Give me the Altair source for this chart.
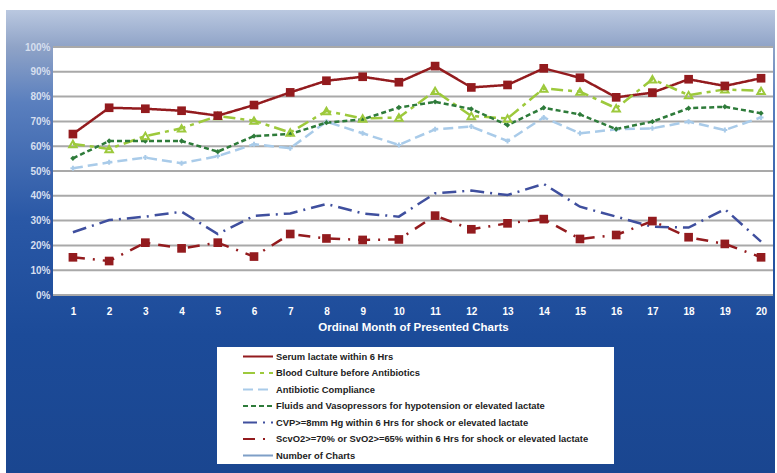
import altair as alt
import pandas as pd

months = list(range(1, 21))

serum_lactate = [64.9, 75.5, 75.1, 74.3, 72.3, 76.6, 81.7, 86.4, 88.0, 85.8,
                 92.3, 83.7, 84.7, 91.4, 87.6, 79.7, 81.6, 87.0, 84.3, 87.4]
blood_culture = [60.9, 58.9, 64.1, 67.2, 72.2, 70.3, 65.5, 74.2, 71.2, 71.6,
                 82.3, 72.2, 71.2, 83.3, 82.0, 75.3, 87.0, 80.6, 82.9, 82.3]
antibiotic = [51.1, 53.5, 55.4, 53.1, 56.0, 60.8, 59.2, 69.9, 65.2, 60.5,
              66.8, 67.9, 62.1, 71.6, 65.2, 66.8, 67.2, 69.9, 66.5, 71.6]
fluids = [55.1, 62.1, 62.1, 62.1, 57.8, 64.1, 64.9, 69.5, 70.8, 75.6,
          77.9, 75.0, 68.5, 75.5, 72.8, 66.9, 69.9, 75.3, 75.9, 73.3]
cvp = [25.3, 30.2, 31.6, 33.6, 24.6, 31.9, 32.9, 36.7, 32.9, 31.6,
       41.0, 42.1, 40.3, 44.8, 35.6, 31.6, 27.5, 27.2, 34.6, 21.5]
scvo2 = [15.2, 13.7, 21.1, 18.8, 21.1, 15.5, 24.6, 22.8, 22.2, 22.4,
         32.0, 26.5, 28.9, 30.6, 22.6, 24.2, 29.8, 23.3, 20.6, 15.2]

series_names = [
    "Serum lactate within 6 Hrs",
    "Blood Culture before Antibiotics",
    "Antibiotic Compliance",
    "Fluids and Vasopressors for hypotension or elevated lactate",
    "CVP>=8mm Hg within 6 Hrs for shock or elevated lactate",
    "ScvO2>=70% or SvO2>=65% within 6 Hrs for shock or elevated lactate",
    "Number of Charts",
]
series_values = [serum_lactate, blood_culture, antibiotic, fluids, cvp, scvo2]
series_colors = ["#931b1e", "#9dc93c", "#a9cbe9", "#2e7b3a", "#3f4f9e", "#931b1e", "#7f9fc7"]
series_dash = [[1, 0], [12, 5, 4, 5], [10, 5], [5, 3], [14, 6, 2, 6], [12, 8, 2, 8], [1, 0]]

y_ticks = list(range(0, 101, 10))

rows = []
for name, vals in zip(series_names, series_values):
    for m, v in zip(months, vals):
        rows.append({"month": m, "value": v, "series": name})
df = pd.DataFrame(rows)

FONT = "Liberation Sans"

x_scale = alt.Scale(domain=[0.45, 20.33], nice=False, zero=False)
y_scale = alt.Scale(domain=[0, 100], nice=False)

x_enc = alt.X("month:Q", scale=x_scale,
              axis=alt.Axis(values=months, format="d", title="Ordinal Month of Presented Charts",
                            labelColor="white", labelFontWeight="bold", labelFontSize=10, labelFont=FONT,
                            labelPadding=11, titleColor="white", titleFontWeight="bold",
                            titleFontSize=11.5, titleFont=FONT, titlePadding=5,
                            domain=False, ticks=False, grid=False, zindex=2))
y_enc = alt.Y("value:Q", scale=y_scale,
              axis=alt.Axis(values=y_ticks, labelExpr="datum.value + '%'", title=None,
                            labelColor="#d6dfef", labelFontWeight="bold", labelFontSize=10, labelFont=FONT,
                            labelPadding=3, domain=False, ticks=False, grid=False, zindex=2))

one = pd.DataFrame({"a": [0]})

bg = alt.Chart(one).mark_rect(
    color=alt.Gradient(
        gradient="linear", x1=0, x2=0, y1=0, y2=1,
        stops=[alt.GradientStop(color="#bac8e0", offset=0),
               alt.GradientStop(color="#8fa3c7", offset=0.08),
               alt.GradientStop(color="#5a7fbe", offset=0.2),
               alt.GradientStop(color="#2a58a6", offset=0.45),
               alt.GradientStop(color="#1c4b99", offset=0.7),
               alt.GradientStop(color="#1a4690", offset=1)])
).encode(x=alt.value(-47), x2=alt.value(722), y=alt.value(-37), y2=alt.value(426))

panel = alt.Chart(one).mark_rect(color="white").encode(
    x=alt.value(0), x2=alt.value(720), y=alt.value(0), y2=alt.value(248))

grid = alt.Chart(pd.DataFrame({"value": y_ticks})).mark_rule(color="#a9a9a9", strokeWidth=2).encode(
    y=y_enc)

legend = alt.Legend(title=" ", titleOrient="right", titlePadding=22, titleFontSize=9,
                    orient="none", legendX=164, legendY=300, fillColor="white",
                    padding=3.5, symbolType="M-3,0H3", symbolSize=100, symbolStrokeWidth=2,
                    symbolOffset=31.5, labelOffset=12, labelFont=FONT, labelFontSize=9.4,
                    labelFontWeight="bold", labelColor="#222222", labelLimit=500, rowPadding=5.5)

lines = alt.Chart(df).mark_line(strokeWidth=2.5).encode(
    x=x_enc, y=y_enc,
    color=alt.Color("series:N", scale=alt.Scale(domain=series_names, range=series_colors), legend=legend),
    strokeDash=alt.StrokeDash("series:N", scale=alt.Scale(domain=series_names, range=series_dash), legend=legend),
)

def pts(names, **kw):
    return alt.Chart(df).transform_filter(
        alt.FieldOneOfPredicate(field="series", oneOf=names)
    ).mark_point(**kw).encode(x=x_enc, y=y_enc)

squares = pts([series_names[0], series_names[5]], shape="square", filled=True, color="#931b1e", size=75, opacity=1)
tris = pts([series_names[1]], shape="triangle-up", filled=False, color="#9dc93c", size=55, strokeWidth=2, opacity=1)
crosses = pts([series_names[2]], shape="cross", filled=True, color="#a9cbe9", size=25, opacity=1)
diamonds = pts([series_names[3]], shape="diamond", filled=True, color="#2e7b3a", size=28, opacity=1)

chart = alt.layer(bg, panel, grid, lines, crosses, diamonds, tris, squares).properties(
    width=720, height=248, background="white",
    padding={"left": 53, "top": 47, "right": 4, "bottom": 178},
    autosize=alt.AutoSizeParams(type="none"),
).configure_view(stroke=None)

chart.save("out.html", embed_options={"renderer": "svg", "actions": False})
